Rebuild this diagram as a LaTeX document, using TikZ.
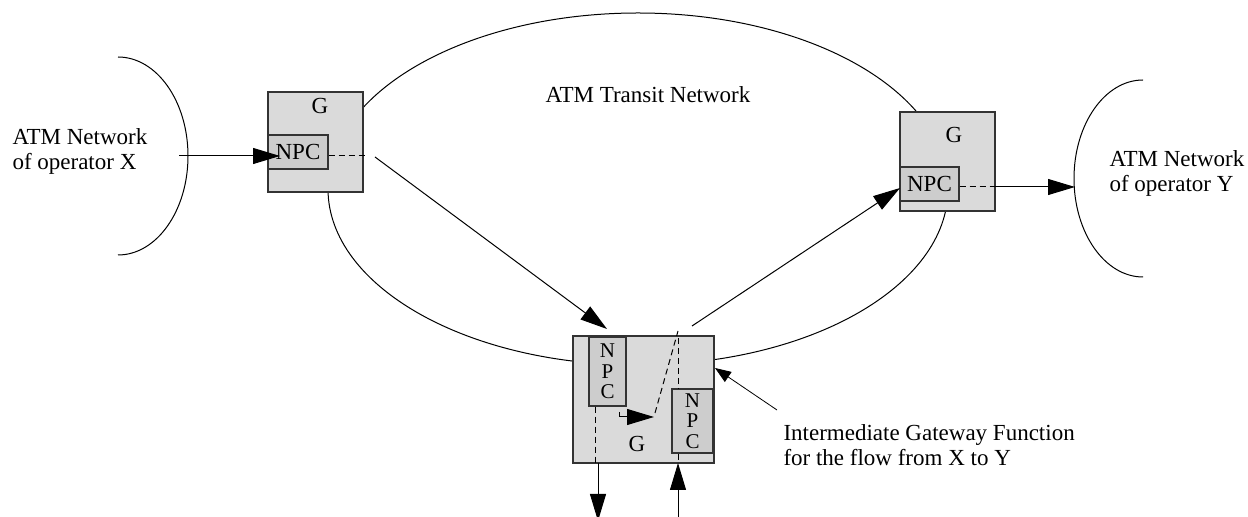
\documentclass[tikz,border=0pt]{standalone}
\usepackage{fontspec}
\setmainfont{Liberation Serif}
\usetikzlibrary{arrows.meta}
\definecolor{gwfill}{HTML}{DADADA}
\definecolor{npcfill}{HTML}{CDCDCD}
\begin{document}
\begin{tikzpicture}[x=0.5pt,y=-0.5pt,line width=0.5pt,
  gwbox/.style={draw=black!80,line width=0.65pt,fill=gwfill,inner sep=0pt},
  npcbox/.style={draw=black!80,line width=0.65pt,fill=npcfill,inner sep=0pt,font=\fontsize{11.5}{12}\selectfont},
  vnpc/.style={npcbox,align=center,font=\fontsize{10.5}{10.3}\selectfont},
  lbl/.style={inner sep=0pt,font=\fontsize{11.5}{12.5}\selectfont},
  big/.style={-{Triangle[length=13.5pt,width=8pt]}},
  small/.style={-{Triangle[length=8pt,width=6pt]}},
  dsh/.style={dash pattern=on 3pt off 2pt}]
\path[use as bounding box] (0,0) rectangle (1248,517);
% networks
\draw (638,189) ellipse [x radius=310, y radius=176];
\draw (118,57) arc[start angle=-90,end angle=90,x radius=70,y radius=99];
\draw (1143,80) arc[start angle=270,end angle=90,x radius=69,y radius=98.5];
% gateways
\node[gwbox,minimum width=47.5pt,minimum height=50pt] (gL) at (315.5,142) {};
\node[npcbox,minimum width=30pt,minimum height=17pt] (npcL) at (298,152) {NPC};
\node[lbl,anchor=base] (tgL) at (320,114) {G};
\node[gwbox,minimum width=47.5pt,minimum height=49.5pt] (gR) at (947.5,161.5) {};
\node[npcbox,minimum width=29.5pt,minimum height=17pt] (npcR) at (929.5,184) {NPC};
\node[lbl,anchor=base] (tgR) at (954,143) {G};
\node[gwbox,minimum width=70.5pt,minimum height=63.5pt] (gB) at (643.5,399.5) {};
\node[vnpc,minimum width=18.5pt,minimum height=34.5pt] (npcB1) at (607.5,371.5) {N\\P\\C};
\node[vnpc,minimum width=20.5pt,minimum height=32pt] (npcB2) at (692.5,421) {N\\P\\C};
\node[lbl,anchor=base] (tgB) at (637,452) {G};
% labels
\node[lbl,anchor=west,align=left] (netX) at (12,151) {ATM Network\\of operator X};
\node[lbl,anchor=west,align=left] (netY) at (1109,173) {ATM Network\\of operator Y};
\node[lbl,anchor=base west] (transit) at (545,103) {ATM Transit Network};
\node[lbl,anchor=west,align=left] (igf) at (783,445) {Intermediate Gateway Function\\for the flow from X to Y};
% connectors
\coordinate (inX) at (179,156);
\coordinate (inXtip) at (280,156);
\draw[big] (inX) -- (inXtip);
\coordinate (aL) at (368,156);
\draw[dsh] (npcL.east |- aL) -- (aL);
\coordinate (bL) at (375,157);
\coordinate (bBtip) at (607,329);
\draw[big] (bL) -- (bBtip);
\coordinate (dB) at (595,463);
\draw[dsh] (npcB1.south -| dB) -- (dB);
\coordinate (dB2) at (598,463);
\coordinate (outB) at (598,521);
\draw[big] (dB2) -- (outB);
\coordinate (t0) at (619,412);
\coordinate (t1) at (654,417);
\draw[big] (t0) |- (t1);
\coordinate (s0) at (655,413);
\coordinate (s1) at (678,331);
\draw[dsh] (s0) -- (s1);
\coordinate (s2) at (678,338);
\draw[dsh] (s2) -- (npcB2.north -| s2);
\coordinate (oR0) at (692,326);
\coordinate (oRtip) at (900,188);
\draw[big] (oR0) -- (oRtip);
\coordinate (eR) at (992,187);
\draw[dsh] (npcR.east |- eR) -- (eR);
\coordinate (eRtip) at (1075,187);
\draw[big] (eR) -- (eRtip);
\coordinate (inB) at (678,517);
\coordinate (inBtip) at (678,463);
\draw[big] (inB) -- (inBtip);
\draw[dsh] (npcB2.south -| inB) -- (inBtip);
\coordinate (ld) at (777,410);
\coordinate (ldtip) at (715,368);
\draw[small,line width=0.4pt] (ld) -- (ldtip);
\end{tikzpicture}
\end{document}
